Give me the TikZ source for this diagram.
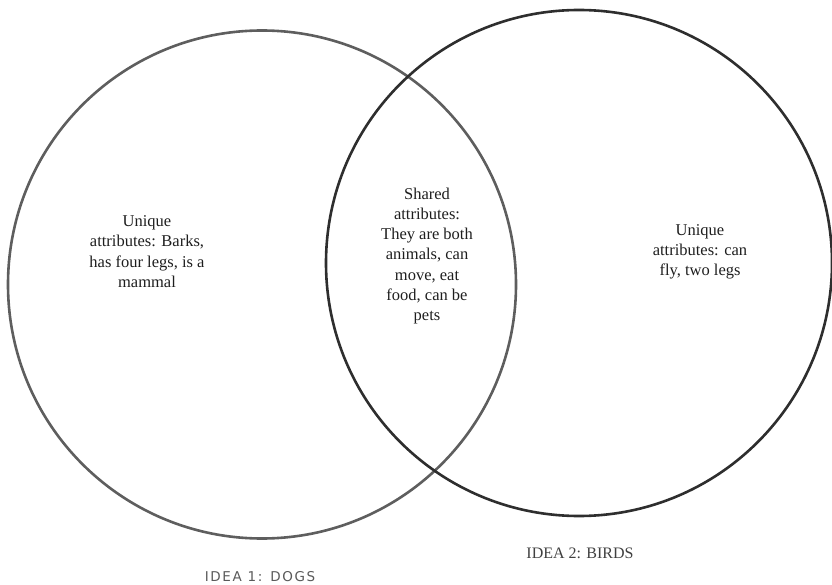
\documentclass[tikz,border=0pt]{standalone}
\usepackage{fontspec}
\setmainfont{Liberation Serif}
\newfontfamily\capsfont[LetterSpace=12]{DejaVu Sans}
\usetikzlibrary{positioning}

\definecolor{ringA}{HTML}{5E5E5E}
\definecolor{ringB}{HTML}{2E2E2E}
\definecolor{inkdark}{HTML}{1E1E1E}

\begin{document}
\begin{tikzpicture}[x=1pt, y=-1pt,
    ring/.style={circle, draw, line width=2.6pt, minimum size=#1, inner sep=0pt},
    note/.style={align=center, text=inkdark, font=\fontsize{16.5}{20.3}\selectfont},
    idea/.style={text=#1, inner sep=0pt}]
  \useasboundingbox (0,0) rectangle (832,585);

  % Circles
  \node[ring=508pt, draw=ringA] (dogs) at (262,284.5) {};
  \node[ring=506pt, draw=ringB] (birds) at (579,263) {};

  % Attributes
  \node[note] (dogsonly) at (147,251.5)
    {Unique\\attributes: Barks,\\has four legs, is a\\mammal};
  \node[note] (shared) at (427,256)
    {Shared\\attributes:\\They are both\\animals, can\\move, eat\\food, can be\\pets};
  \node[note] (birdsonly) at (700,252)
    {Unique\\attributes: can\\fly, two legs};

  % Labels
  \node[idea=gray!70!black, font=\capsfont\fontsize{13.5}{14}\selectfont]
    (dogslabel) at (260,577) {IDEA 1: DOGS};
  \node[idea=inkdark!85, font=\fontsize{16}{16}\selectfont]
    (birdslabel) at (580,553) {IDEA 2: BIRDS};
\end{tikzpicture}
\end{document}
